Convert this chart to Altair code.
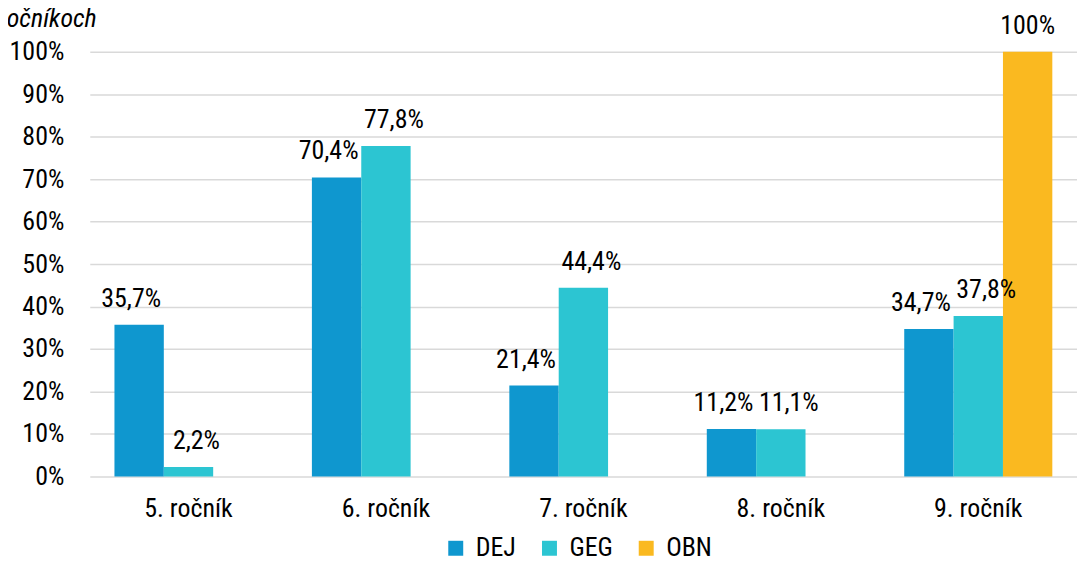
import altair as alt
import pandas as pd

grades = ["5. ročník", "6. ročník", "7. ročník", "8. ročník", "9. ročník"]
subjects = ["DEJ", "GEG", "OBN"]
dej = [35.7, 70.4, 21.4, 11.2, 34.7]
geg = [2.2, 77.8, 44.4, 11.1, 37.8]
obn = [None, None, None, None, 100.0]
colors = ["#0F97CF", "#2CC5D2", "#FAB920"]
title_text = "ročníkoch"

rows = []
for s, vals in zip(subjects, [dej, geg, obn]):
    for g, v in zip(grades, vals):
        if v is None:
            continue
        lab = (f"{v:.1f}".replace(".", ",") if v % 1 else f"{int(v)}") + "%"
        rows.append({"grade": g, "subject": s, "value": v, "label": lab})
df = pd.DataFrame(rows)

FONT = "Roboto Condensed, Liberation Sans Narrow, Roboto"
FS = 26

x = alt.X("grade:N", sort=grades, title=None,
          scale=alt.Scale(paddingInner=0.25, paddingOuter=0.125),
          axis=alt.Axis(labelAngle=0, ticks=False, domain=False, labelPadding=19,
                        labelFontSize=FS, labelColor="#000000", labelFont=FONT))
xo = alt.XOffset("subject:N", scale=alt.Scale(domain=subjects))
y = alt.Y("value:Q", title=None,
          scale=alt.Scale(domain=[0, 100], nice=False),
          axis=alt.Axis(values=list(range(0, 101, 10)), labelExpr="datum.value + '%'",
                        ticks=False, domain=False, labelPadding=26, labelFontSize=FS,
                        labelColor="#000000", labelFont=FONT,
                        gridColor="#D9D9D9", gridWidth=1.5))

bars = alt.Chart(df).mark_bar().encode(
    x=x, xOffset=xo, y=y,
    color=alt.Color("subject:N", scale=alt.Scale(domain=subjects, range=colors),
                    legend=alt.Legend(title=None, orient="none", direction="horizontal",
                                      legendX=354, legendY=485, symbolType="square",
                                      symbolSize=225, symbolStrokeWidth=0,
                                      labelFontSize=FS, labelFont=FONT, labelColor="#000000",
                                      columnPadding=20, labelOffset=7)),
)


def label_layer(subject, dx):
    return alt.Chart(df).transform_filter(alt.datum.subject == subject).mark_text(
        fontSize=FS, font=FONT, color="#000000", dy=-26, dx=dx, baseline="middle"
    ).encode(x=alt.X("grade:N", sort=grades), xOffset=xo, y="value:Q", text="label:N")


labels = label_layer("DEJ", -8) + label_layer("GEG", 8) + label_layer("OBN", 0)

title = alt.Chart(pd.DataFrame({"t": [title_text]})).mark_text(
    fontSize=FS, font=FONT, fontStyle="italic", color="#000000",
    align="right", baseline="alphabetic").encode(
    x=alt.value(7), y=alt.value(-25), text="t:N")

chart = (bars + labels + title).properties(
    width=990, height=426,
    padding={"left": 82, "top": 43, "right": 0, "bottom": 86},
    autosize=alt.AutoSizeParams(type="none"),
).configure_view(stroke=None)

chart.save("out.html", embed_options={"renderer": "svg", "actions": False})
